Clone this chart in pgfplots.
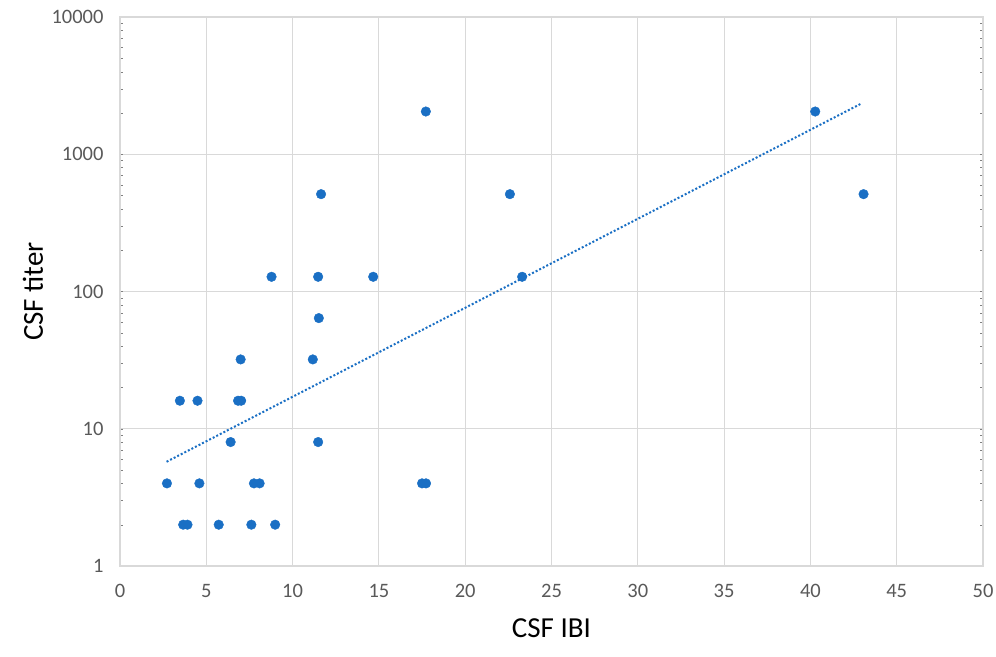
\documentclass[border=0pt]{standalone}
\usepackage{fontspec}
\setmainfont{Carlito}
\usepackage{pgfplots}
\pgfplotsset{compat=1.18}
\definecolor{ptblue}{RGB}{26,111,196}
\definecolor{gridgray}{RGB}{217,217,217}
\definecolor{ticktext}{RGB}{89,89,89}

\begin{document}
\begin{tikzpicture}
% padding so the picture keeps the reference frame (996 x 657)
\path[use as bounding box] (-120bp,-91bp) rectangle (876bp,566bp);
\begin{axis}[
  at={(0,0)}, anchor=south west,
  scale only axis,
  width=863bp, height=549bp,
  xmin=0, xmax=50,
  ymode=log, ymin=1, ymax=10000,
  xtick={0,5,...,50},
  ytick={1,10,100,1000,10000},
  yticklabels={1,10,100,1000,10000},
  minor tick num=0,
  major tick length=0pt,
  grid=major,
  major grid style={gridgray, line width=1.1bp},
  axis line style={gridgray, line width=1.1bp},
  tick label style={font=\fontsize{20.5bp}{23bp}\selectfont, text=ticktext},
  /pgf/number format/assume math mode=true,
  xticklabel style={yshift=-15bp},
  yticklabel style={xshift=-13bp},
  xlabel={CSF IBI},
  ylabel={CSF titer},
  label style={font=\fontsize{29bp}{32bp}\selectfont, text=black},
  xlabel style={at={(axis description cs:0.5,0)}, anchor=center, yshift=-62bp},
  ylabel style={at={(axis description cs:0,0.5)}, anchor=center, rotate=0, yshift=87bp},
  clip=false,
]
\addplot[only marks, mark=*, mark size=4.8bp, ptblue, mark options={draw=ptblue, fill=ptblue}]
  coordinates {
  (8.78,128) (11.48,128) (14.67,128) (23.3,128)
  (11.52,64)
  (6.99,32) (11.17,32)
  (3.47,16) (4.49,16) (6.84,16) (7.02,16)
  (6.41,8) (11.48,8)
  (2.72,4) (4.60,4) (7.76,4) (8.09,4) (17.50,4) (17.73,4)
  (3.66,2) (3.91,2) (5.72,2) (7.61,2) (8.99,2)
  (11.65,512) (22.59,512) (43.08,512)
  (17.72,2048) (40.28,2048)
  };
% exponential trendline
\addplot[ptblue, line width=2bp, dotted] coordinates {(2.7,5.75) (42.9,2323)};
\end{axis}
\end{tikzpicture}
\end{document}
